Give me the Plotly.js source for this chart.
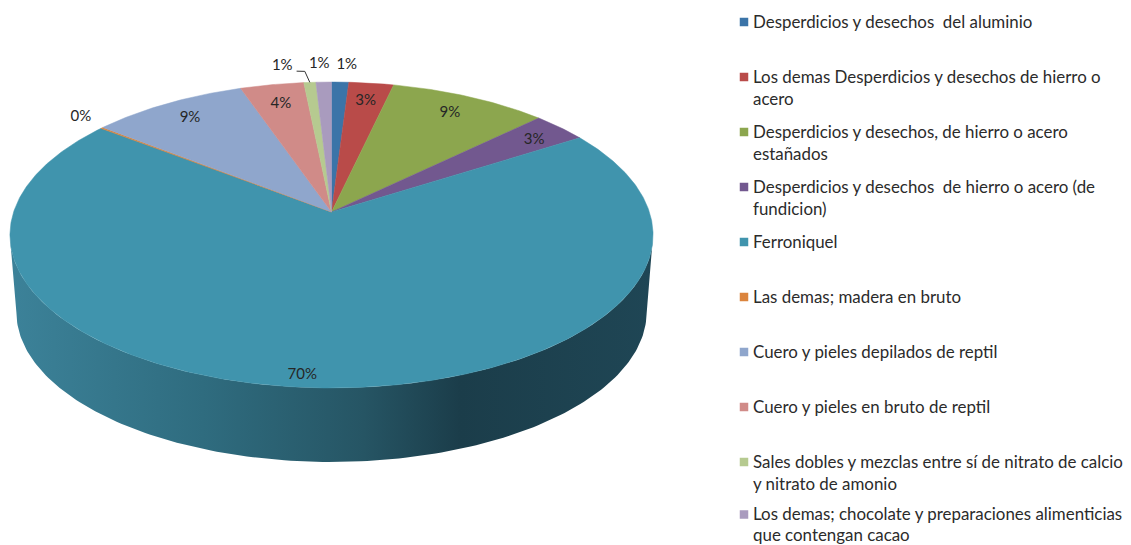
<!DOCTYPE html>
<html>
<head>
<meta charset="utf-8">
<script src="https://cdn.plot.ly/plotly-3.0.1.min.js"></script>
<style>html,body{margin:0;padding:0;background:#fff;overflow:hidden}</style>
</head>
<body>
<div id="chart" style="width:1131px;height:545px"></div>
<script>
// ---- data ----
const categories = [
  "Desperdicios y desechos  del aluminio",
  "Los demas Desperdicios y desechos de hierro o<br>acero",
  "Desperdicios y desechos, de hierro o acero<br>estañados",
  "Desperdicios y desechos  de hierro o acero (de<br>fundicion)",
  "Ferroniquel",
  "Las demas; madera en bruto",
  "Cuero y pieles depilados de reptil",
  "Cuero y pieles en bruto de reptil",
  "Sales dobles y mezclas entre sí de nitrato de calcio<br>y nitrato de amonio",
  "Los demas; chocolate y preparaciones alimenticias<br>que contengan cacao"
];
const shares = [1.0, 2.6, 9.2, 3.2, 69.5, 0.15, 9.1, 3.7, 0.7, 0.9];
const percentLabels = ["1%","3%","9%","3%","70%","0%","9%","4%","1%","1%"];
const colors = ["#3b74a8","#b94b49","#8ca64e","#72588f","#4094ad","#db843d","#8fa6cc","#d08b88","#b6ca90","#a99bbe"];

// ---- label placement (radius as a fraction of the pie, turn in degrees) ----
const labelRadius = [1.155,0.84,0.84,0.86,0.94,1.12,0.847,0.83,1.16,1.165];
const labelTurn   = [1.0,0,0,1.2,2.2,1,0,0,-4.5,-0.6];

// ---- perspective of the tilted disc ----
const apex = {x:331.5, y:212}, p = 0.1504, a = 317.9, b = 149.5;
const depthShift = 77.5, depthScale = 0.98;
function project(deg, r, lower){
  const t = deg*Math.PI/180, u = r*Math.sin(t), v = r*Math.cos(t), w = 1 + p*v;
  const k = lower ? depthScale : 1;
  return [apex.x + k*a*u/w, apex.y + (lower ? depthShift : 0) - k*b*v/w];
}
const total = shares.reduce((s,v)=>s+v,0);
let cum = 0;
const bounds = shares.map(v=>{const s=cum; cum+=v; return [s/total*360, cum/total*360];});

const traces = [];

// side wall of the disc
const sideX = [], sideY = [];
for(let d=98.6; d<=261.4; d+=1){const q=project(d,1,false); sideX.push(q[0]); sideY.push(q[1]);}
for(let d=261.4; d>=98.6; d-=1){const q=project(d,1,true); sideX.push(q[0]); sideY.push(q[1]);}
traces.push({type:"scatter",mode:"lines",x:sideX,y:sideY,fill:"toself",hoverinfo:"skip",
  line:{width:0,color:"#2a6070"},
  fillgradient:{type:"horizontal",colorscale:[[0,"#3c8299"],[0.3,"#2f6c7f"],[0.55,"#265564"],[0.7,"#1b3d4a"],[1,"#1f4655"]]}});

// top slices
bounds.forEach((bd,i)=>{
  const xs=[apex.x], ys=[apex.y];
  const n=Math.max(2,Math.ceil((bd[1]-bd[0])*2));
  for(let j=0;j<=n;j++){const q=project(bd[0]+(bd[1]-bd[0])*j/n,1,false); xs.push(q[0]); ys.push(q[1]);}
  xs.push(apex.x); ys.push(apex.y);
  traces.push({type:"scatter",mode:"lines",x:xs,y:ys,fill:"toself",fillcolor:colors[i],
    line:{width:0.5,color:colors[i]},hoveron:"fills",
    text:categories[i].replace("<br>"," ")+": "+percentLabels[i],hoverinfo:"text"});
});

// percent labels
const labelPts = bounds.map((bd,i)=>project((bd[0]+bd[1])/2+labelTurn[i],labelRadius[i],false));
traces.push({type:"scatter",mode:"text",x:labelPts.map(q=>q[0]),y:labelPts.map(q=>q[1]),
  text:percentLabels,textposition:"middle center",hoverinfo:"skip",
  textfont:{family:"Lato, sans-serif",size:15,color:"#262626"}});

// leader line of the ninth slice
const mid9=(bounds[8][0]+bounds[8][1])/2;
const lead=[project(mid9,1,false),project(mid9-0.6,1.10,false),project(mid9-2.15,1.105,false)];
traces.push({type:"scatter",mode:"lines",x:lead.map(q=>q[0]),y:lead.map(q=>q[1]),hoverinfo:"skip",
  line:{width:1,color:"#333"}});

// legend rows (the last row is lifted slightly so its second line stays inside the page)
const legendTop = 22, legendStep = 55, lineStep = 22, lastLineStep = 20.5, lastRowLift = 2.5, legendMarkX = 744, legendTextX = 751;
const rowY = categories.map((c,i)=>legendTop+legendStep*i-(i===categories.length-1?lastRowLift:0));
traces.push({type:"scatter",mode:"markers",x:categories.map(()=>legendMarkX),y:rowY,hoverinfo:"skip",
  marker:{symbol:"square",size:8.5,color:colors,line:{width:0}}});
const annotations=[];
categories.forEach((c,i)=>{
  c.split("<br>").forEach((line,j)=>{
    const step = i===categories.length-1 ? lastLineStep : lineStep;
    annotations.push({xref:"x",yref:"y",x:legendTextX,y:rowY[i]+step*j-1,text:line,showarrow:false,
      xanchor:"left",yanchor:"middle",align:"left",
      font:{family:"Lato, sans-serif",size:16.9,color:"#2b2b2b"}});
  });
});

Plotly.newPlot("chart",traces,{
  width:1131,height:545,autosize:false,showlegend:false,
  margin:{l:0,r:0,t:0,b:0},paper_bgcolor:"#fff",plot_bgcolor:"#fff",
  xaxis:{range:[0,1131],visible:false,fixedrange:true},
  yaxis:{range:[545,0],visible:false,fixedrange:true},
  annotations:annotations,hovermode:"closest"
},{displayModeBar:false});
</script>
</body>
</html>
